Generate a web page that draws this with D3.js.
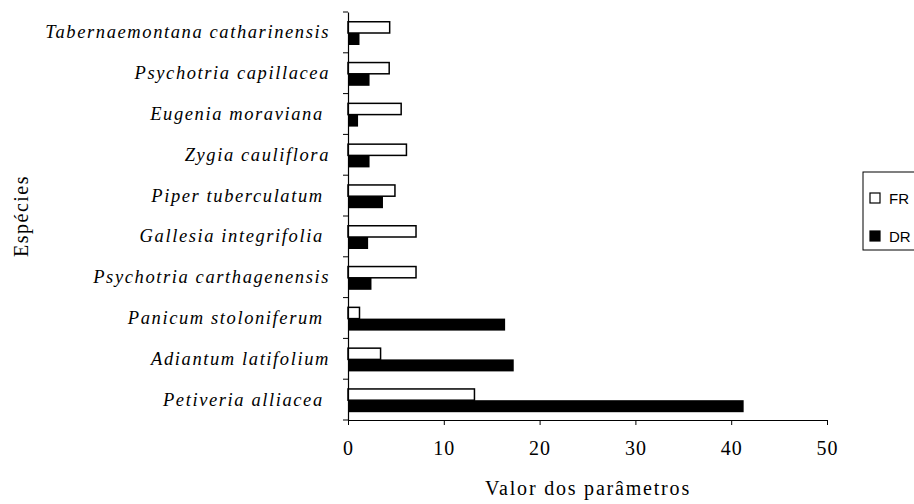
<!DOCTYPE html>
<html>
<head>
<meta charset="utf-8">
<script src="https://cdn.jsdelivr.net/npm/d3@7"></script>
<style>
body { margin: 0; background: #fff; }
svg text { white-space: pre; }
</style>
</head>
<body>
<svg id="chart" width="914" height="504"></svg>
<script>

var especies = ["Tabernaemontana catharinensis", "Psychotria capillacea", "Eugenia moraviana ",
    "Zygia cauliflora", "Piper tuberculatum ", "Gallesia integrifolia ",
    "Psychotria carthagenensis", "Panicum stoloniferum ", "Adiantum latifolium", "Petiveria alliacea "];
var FR = [4.35, 4.3, 5.55, 6.1, 4.9, 7.1, 7.1, 1.2, 3.4, 13.2];
var DR = [1.2, 2.25, 1.05, 2.25, 3.65, 2.1, 2.45, 16.4, 17.3, 41.3];
var series = ["FR", "DR"];
var xticks = [0, 10, 20, 30, 40, 50];

var svg = d3.select('#chart');

var xoffset = 348;
var ytop = 12;
var ybottom = 420;

var xScale = d3.scaleLinear().domain([0, 50]).range([xoffset, 827]);
var yScale = d3.scaleBand().domain(especies).range([ytop, ybottom]).padding(0);
// white bar on top, black bar below it, inside each band
var subScale = d3.scaleBand().domain(series).range([9, 33]).padding(0);

var fills = {FR: '#fff', DR: '#000'};

var rows = especies.map(function(d, i){ return {name: d, FR: FR[i], DR: DR[i]}; });

var g = svg.append('g').attr('id', 'bars');

g.selectAll('g.row')
    .data(rows)
    .enter()
    .append('g')
    .attr('class', 'row')
    .attr('transform', function(d){ return `translate(0, ${yScale(d.name)})`; })
    .selectAll('rect')
    .data(function(d){ return series.map(function(s){ return {key: s, value: d[s]}; }); })
    .enter()
    .append('rect')
      .attr('x', xScale(0))
      .attr('y', function(d){ return subScale(d.key) + (d.key == 'FR' ? 0.75 : 0); })
      .attr('width', function(d){ return xScale(d.value) - xScale(0); })
      .attr('height', function(d){ return subScale.bandwidth() - (d.key == 'FR' ? 0.75 : 0); })
      .style('fill', function(d){ return fills[d.key]; })
      .style('stroke', function(d){ return d.key == 'FR' ? '#000' : 'none'; })
      .style('stroke-width', 1.5);

// x axis
var xAxis = d3.axisBottom(xScale).tickValues(xticks).tickSize(5).tickSizeOuter(0).tickPadding(16);
var x = svg.append('g')
    .attr('transform', `translate(0, ${ybottom})`)
    .call(xAxis);
x.select('.domain').attr('stroke', '#000').attr('stroke-width', 1.2);
x.selectAll('.tick line').attr('stroke', '#000');
x.selectAll('.tick text')
    .attr('fill', '#000')
    .style('font-family', '"Liberation Serif", "Times New Roman", serif')
    .style('font-size', '20px')
    .style('letter-spacing', '1px');

// y axis, ticks on band edges
var yAxis = d3.axisLeft(yScale).tickSize(0).tickFormat('');
var y = svg.append('g')
    .attr('transform', `translate(${xoffset}, 0)`)
    .call(yAxis);
y.select('.domain').attr('stroke', '#000').attr('stroke-width', 1.2);

var edges = especies.map(function(d){ return yScale(d); }).concat([ybottom]);
y.selectAll('line.edge')
    .data(edges)
    .enter()
    .append('line')
    .attr('class', 'edge')
    .attr('x1', -5).attr('x2', 0)
    .attr('y1', function(d){ return d; })
    .attr('y2', function(d){ return d; })
    .attr('stroke', '#000');

y.selectAll('text.lab')
    .data(especies)
    .enter()
    .append('text')
    .attr('class', 'lab')
    .attr('x', -18)
    .attr('y', function(d){ return yScale(d) + yScale.bandwidth() / 2 + 6; })
    .attr('text-anchor', 'end')
    .attr('fill', '#000')
    .style('font-family', '"Liberation Serif", "Times New Roman", serif')
    .style('font-style', 'italic')
    .style('font-size', '18.5px')
    .style('letter-spacing', '1.6px')
    .text(function(d){ return d; });

// axis titles
svg.append('text')
    .attr('x', 588)
    .attr('y', 495)
    .attr('text-anchor', 'middle')
    .style('font-family', '"Liberation Serif", "Times New Roman", serif')
    .style('font-size', '20px')
    .style('letter-spacing', '1.8px')
    .text('Valor dos parâmetros');

svg.append('text')
    .attr('transform', 'rotate(-90)')
    .attr('x', -216)
    .attr('y', 28)
    .attr('text-anchor', 'middle')
    .style('font-family', '"Liberation Serif", "Times New Roman", serif')
    .style('font-size', '20px')
    .style('letter-spacing', '1.5px')
    .text('Espécies');

// legend
var legend = svg.append('g').attr('id', 'legend');
legend.append('rect')
    .attr('x', 863).attr('y', 172)
    .attr('width', 70).attr('height', 78)
    .style('fill', '#fff')
    .style('stroke', '#000')
    .style('stroke-width', 1);

var legY = d3.scalePoint().domain(series).range([198, 236]);

legend.selectAll('rect.key')
    .data(series)
    .enter()
    .append('rect')
    .attr('class', 'key')
    .attr('x', 870)
    .attr('y', function(d){ return legY(d) - 5; })
    .attr('width', 10).attr('height', 10)
    .style('fill', function(d){ return fills[d]; })
    .style('stroke', '#000')
    .style('stroke-width', 1.2);

legend.selectAll('text.key')
    .data(series)
    .enter()
    .append('text')
    .attr('class', 'key')
    .attr('x', 889)
    .attr('y', function(d){ return legY(d) + 5.5; })
    .style('font-family', '"Liberation Sans", Arial, sans-serif')
    .style('font-size', '15px')
    .text(function(d){ return d; });

</script>
</body>
</html>
